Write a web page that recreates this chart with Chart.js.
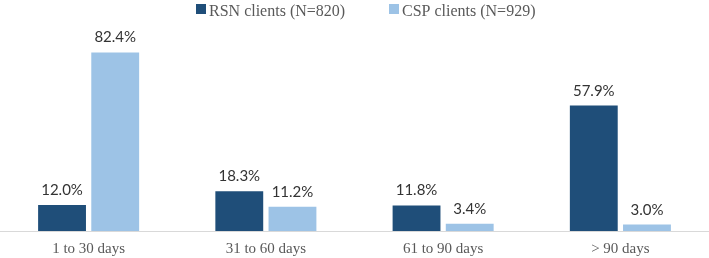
<!DOCTYPE html>
<html>
<head>
<meta charset="utf-8">
<script src="https://cdn.jsdelivr.net/npm/chart.js@4/dist/chart.umd.min.js"></script>
<style>
  html, body { margin: 0; padding: 0; background: #fff; }
  #wrap { width: 709px; height: 258px; }
</style>
</head>
<body>
<div id="wrap"><canvas id="chart"></canvas></div>
<script>
const categories = ['1 to 30 days', '31 to 60 days', '61 to 90 days', '> 90 days'];
const rsnValues = [12.0, 18.3, 11.8, 57.9];
const cspValues = [82.4, 11.2, 3.4, 3.0];
const seriesNames = ['RSN clients (N=820)', 'CSP clients (N=929)'];
const seriesColors = ['#1F4E79', '#9DC3E6'];

// draws the percentage above each bar
const valueLabels = {
  id: 'valueLabels',
  afterDatasetsDraw(chart) {
    const ctx = chart.ctx;
    ctx.save();
    ctx.font = '15px Lato, "Open Sans", sans-serif';
    ctx.fillStyle = '#333333';
    ctx.textAlign = 'center';
    ctx.textBaseline = 'alphabetic';
    chart.data.datasets.forEach((ds, i) => {
      chart.getDatasetMeta(i).data.forEach((bar, j) => {
        ctx.fillText(ds.data[j].toFixed(1) + '%', bar.x, bar.y - 10);
      });
    });
    ctx.restore();
  }
};

// legend drawn by hand, the built-in one puts the items too close together
const topLegend = {
  id: 'topLegend',
  afterDraw(chart) {
    const ctx = chart.ctx;
    ctx.save();
    ctx.font = '16px "Liberation Serif", serif';
    ctx.textBaseline = 'alphabetic';
    const starts = [196, 389];
    chart.data.datasets.forEach((ds, i) => {
      ctx.fillStyle = ds.backgroundColor;
      ctx.fillRect(starts[i], 4, 10, 10);
      ctx.fillStyle = '#595959';
      ctx.fillText(ds.label, starts[i] + 13, 16);
    });
    ctx.restore();
  }
};

new Chart(document.getElementById('chart'), {
  type: 'bar',
  data: {
    labels: categories,
    datasets: [
      { label: seriesNames[0], data: rsnValues, backgroundColor: seriesColors[0] },
      { label: seriesNames[1], data: cspValues, backgroundColor: seriesColors[1] }
    ]
  },
  options: {
    responsive: true,
    maintainAspectRatio: false,
    animation: false,
    layout: { padding: { left: 0, right: 0, top: 36, bottom: 0 } },
    categoryPercentage: 0.6,
    barPercentage: 0.9,
    plugins: {
      tooltip: { enabled: false },
      legend: { display: false }
    },
    scales: {
      x: {
        afterFit(scale) { scale.height = 27; },
        grid: { display: false, drawTicks: false },
        border: { display: true, color: '#d9d9d9', width: 1 },
        ticks: {
          color: '#595959',
          padding: 9,
          font: { family: '"Liberation Serif", serif', size: 15 }
        }
      },
      y: {
        display: false,
        min: 0,
        max: 90
      }
    }
  },
  plugins: [valueLabels, topLegend]
});
</script>
</body>
</html>
